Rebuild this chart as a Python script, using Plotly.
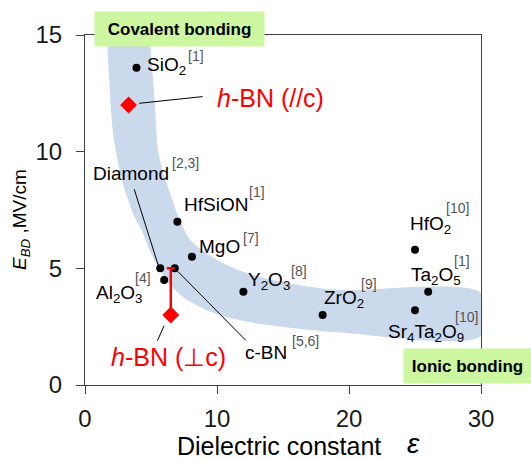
import plotly.graph_objects as go

# ---------------- data ----------------
materials = ["SiO2", "HfSiON", "MgO", "Diamond", "c-BN", "Al2O3", "Y2O3", "ZrO2", "HfO2", "Ta2O5", "Sr4Ta2O9"]
material_labels = ["SiO<sub>2</sub>", "HfSiON", "MgO", "Diamond", "c-BN", "Al<sub>2</sub>O<sub>3</sub>",
                   "Y<sub>2</sub>O<sub>3</sub>", "ZrO<sub>2</sub>", "HfO<sub>2</sub>", "Ta<sub>2</sub>O<sub>5</sub>",
                   "Sr<sub>4</sub>Ta<sub>2</sub>O<sub>9</sub>"]
material_refs = ["[1]", "[1]", "[7]", "[2,3]", "[5,6]", "[4]", "[8]", "[9]", "[10]", "[1]", "[10]"]
eps = [3.9, 7.0, 8.1, 5.7, 6.8, 6.0, 12.0, 18.0, 25.0, 26.0, 25.0]
ebd = [13.6, 7.0, 5.5, 5.0, 5.0, 4.5, 4.0, 3.0, 5.8, 4.0, 3.2]

hbn_labels = ["<i>h</i>-BN (//c)", "<i>h</i>-BN (\u22a5c)"]
hbn_eps = [3.3, 6.5]
hbn_ebd = [12.0, 3.0]
hbn_err_plus = [0.0, 2.0]

# trend band edges
band_upper_x = [4.9, 5.27, 5.6, 6.63, 7.3, 8.0, 9.2, 11.0, 13.2, 16.25, 19.3, 30.0]
band_upper_y = [15.0, 12.2, 9.85, 7.92, 6.9, 6.2, 5.65, 5.07, 4.64, 4.28, 4.07, 3.94]
band_lower_x = [1.65, 2.1, 2.4, 2.86, 3.75, 4.28, 4.89, 5.39, 6.15, 7.4, 9.2, 11.0, 13.2, 16.0, 19.3, 30.0]
band_lower_y = [15.0, 10.9, 9.85, 8.65, 7.21, 6.64, 5.78, 5.21, 4.5, 3.78, 3.21, 2.87, 2.62, 2.42, 2.25, 2.1]

x_ticks = [0, 10, 20, 30]
y_ticks = [0, 5, 10, 15]

# ---------------- layout helpers (pixel offsets of labels from their points) ----------------
label_shift = {  # (xshift, yshift) of left/middle anchor relative to the point
    "SiO2": (9, 2), "HfSiON": (5, 17), "MgO": (5, 10), "Diamond": (-69, 95), "c-BN": (68, -84),
    "Al2O3": (-70, -14), "Y2O3": (3, 11), "ZrO2": (-1, 16), "HfO2": (-7, 25), "Ta2O5": (-19, 16),
    "Sr4Ta2O9": (-29, -23),
}
ref_shift = {
    "SiO2": (50, 12), "HfSiON": (70, 30), "MgO": (49, 19), "Diamond": (10, 105), "c-BN": (115, -73),
    "Al2O3": (-31, 2), "Y2O3": (46, 21), "ZrO2": (36, 31), "HfO2": (29, 42), "Ta2O5": (24, 31),
    "Sr4Ta2O9": (38, -7),
}
hbn_label_shift = [(86, 7), (-62, -42)]
# leader lines: (x0, y0, x1, y1) pixel offsets from the point (y up)
leaders = {"Diamond": (-2, 3, -26, 79), "c-BN": (3, -3, 71, -72)}
hbn_leaders = [(10.7, 1.7, 74, 8.4), (-6.7, -10.7, -13.4, -25.7)]

FONT = "Liberation Sans, Arial, sans-serif"

fig = go.Figure()

# band
bx = band_upper_x + band_lower_x[::-1]
by = band_upper_y + band_lower_y[::-1]
fig.add_trace(go.Scatter(x=bx, y=by, fill="toself", mode="lines",
                         line=dict(width=0, shape="spline", smoothing=0.8),
                         fillcolor="#cbd9ec", hoverinfo="skip", showlegend=False))

shapes = []
def leader(xa, ya, off):
    x0, y0, x1, y1 = off
    return dict(type="line", xref="x", yref="y", xsizemode="pixel", ysizemode="pixel",
                xanchor=xa, yanchor=ya, x0=x0, y0=y0, x1=x1, y1=y1,
                line=dict(color="#000", width=1), layer="above")
for name, off in leaders.items():
    i = materials.index(name)
    shapes.append(leader(eps[i], ebd[i], off))
for i, off in enumerate(hbn_leaders):
    shapes.append(leader(hbn_eps[i], hbn_ebd[i], off))

# points
fig.add_trace(go.Scatter(x=eps, y=ebd, mode="markers", marker=dict(color="black", size=8),
                         showlegend=False, hoverinfo="skip"))
fig.add_trace(go.Scatter(x=hbn_eps, y=hbn_ebd, mode="markers",
                         marker=dict(color="#ff0000", size=13, symbol="diamond"),
                         error_y=dict(type="data", symmetric=False, array=hbn_err_plus,
                                      arrayminus=[0, 0], color="#ff0000", thickness=2.5, width=4),
                         showlegend=False, hoverinfo="skip"))

annotations = []
for i, name in enumerate(materials):
    dx, dy = label_shift[name]
    annotations.append(dict(x=eps[i], y=ebd[i], xref="x", yref="y", text=material_labels[i],
                            showarrow=False, xanchor="left", yanchor="middle", xshift=dx, yshift=dy,
                            font=dict(family=FONT, size=19, color="#000")))
    rx, ry = ref_shift[name]
    annotations.append(dict(x=eps[i], y=ebd[i], xref="x", yref="y", text=material_refs[i],
                            showarrow=False, xanchor="left", yanchor="middle", xshift=rx, yshift=ry,
                            font=dict(family=FONT, size=14, color="#555")))
for i, lab in enumerate(hbn_labels):
    dx, dy = hbn_label_shift[i]
    annotations.append(dict(x=hbn_eps[i], y=hbn_ebd[i], xref="x", yref="y", text=lab,
                            showarrow=False, xanchor="left", yanchor="middle", xshift=dx, yshift=dy,
                            font=dict(family=FONT, size=25, color="#ff0000")))

# bonding boxes
annotations.append(dict(x=(179.5 - 85) / 396, y=(385 - 28.7) / 350, xref="paper", yref="paper",
                        text="<b>Covalent bonding</b>", xanchor="center", yanchor="middle",
                        showarrow=False, bgcolor="#ccf7a0", width=169, height=34, borderpad=0,
                        font=dict(family=FONT, size=17, color="#000")))
annotations.append(dict(x=(467.5 - 85) / 396, y=(385 - 366) / 350, xref="paper", yref="paper",
                        text="<b>Ionic bonding</b>", xanchor="center", yanchor="middle",
                        showarrow=False, bgcolor="#ccf7a0", width=127, height=34, borderpad=0,
                        font=dict(family=FONT, size=17, color="#000")))

# axis titles
annotations.append(dict(x=(279 - 85) / 396, y=(385 - 446) / 350, xref="paper", yref="paper",
                        text="Dielectric constant",
                        showarrow=False, xanchor="center", yanchor="middle",
                        font=dict(family=FONT, size=25, color="#000")))
annotations.append(dict(x=(413 - 85) / 396, y=(385 - 443) / 350, xref="paper", yref="paper",
                        text="<i>\u03b5</i>",
                        showarrow=False, xanchor="center", yanchor="middle",
                        font=dict(family=FONT, size=28, color="#000")))
annotations.append(dict(x=(21 - 85) / 396, y=(385 - 220) / 350, xref="paper", yref="paper",
                        text="<i>E</i><sub><i>BD</i></sub> ,MV/cm", textangle=-90,
                        showarrow=False, xanchor="center", yanchor="middle",
                        font=dict(family=FONT, size=19, color="#000")))

axis_common = dict(showgrid=False, zeroline=False, ticks="outside", ticklen=8, tickwidth=1,
                   tickcolor="#404040", linecolor="#404040", linewidth=1, mirror=True,
                   tickfont=dict(family=FONT, size=24, color="#1a1a1a"))
fig.update_layout(
    width=531, height=460, margin=dict(l=85, r=50, t=35, b=75),
    paper_bgcolor="white", plot_bgcolor="white",
    xaxis=dict(range=[0, 30], tickvals=x_ticks, ticklabelstandoff=4, **axis_common),
    yaxis=dict(range=[0, 15], tickvals=y_ticks, ticklabelstandoff=9, **axis_common),
    annotations=annotations, shapes=shapes, showlegend=False,
)
fig.write_html("out.html")
